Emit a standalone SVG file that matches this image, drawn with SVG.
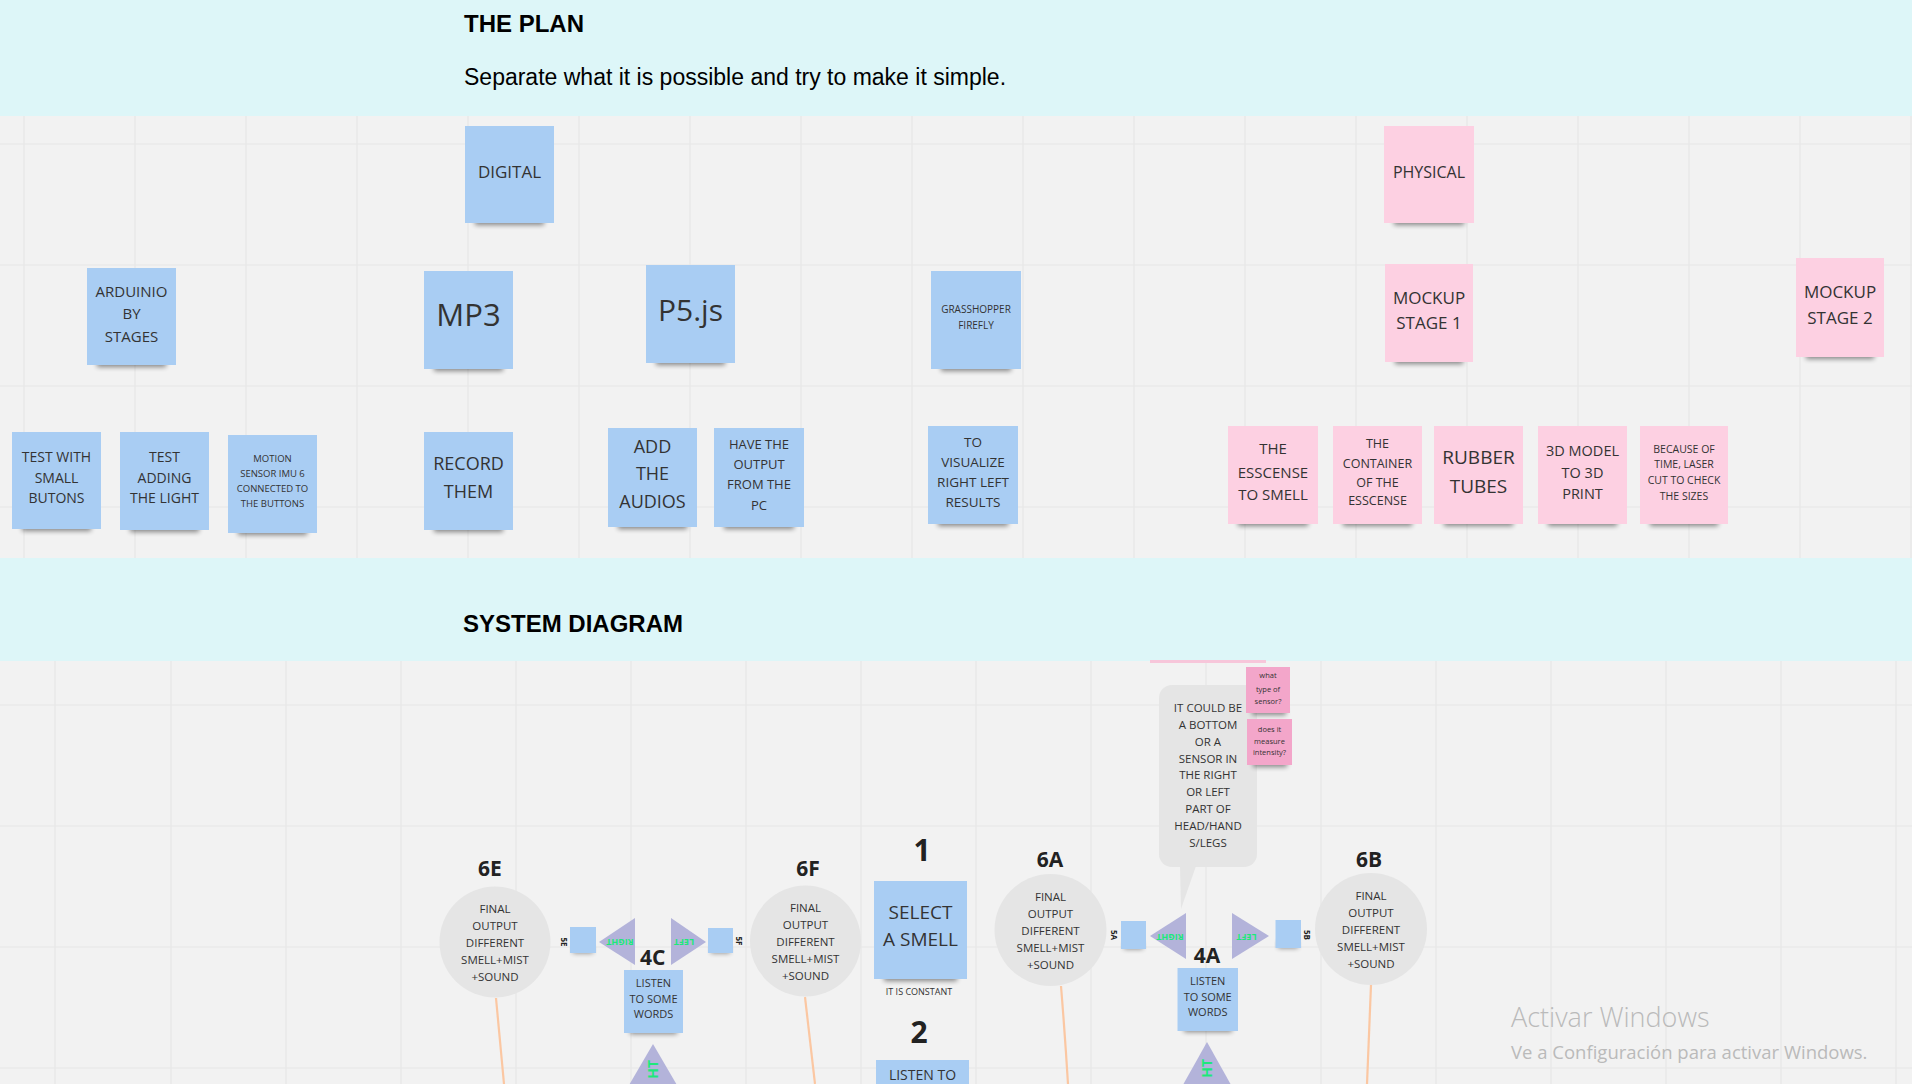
<svg xmlns="http://www.w3.org/2000/svg" width="1912" height="1084" viewBox="0 0 1912 1084">
<defs>
<style>
.bg{fill:#f2f2f2}
.band{fill:#ddf6f8}
.grid{stroke:#e6e6e6;stroke-width:1.2;fill:none}
.b{fill:#a9cdf3}
.p{fill:#fdd0e2}
.pk{fill:#f3a6ca}
.shd{fill:#000;opacity:.45;filter:url(#blur)}
.t{font-family:"Open Sans","Noto Sans",sans-serif;fill:#333;text-anchor:middle}
.h{font-family:"Liberation Sans",Arial,sans-serif;fill:#000}
.lbl{font-family:"Open Sans","Noto Sans",sans-serif;font-weight:700;fill:#222;text-anchor:middle}
.circ{fill:#e5e5e5}
.tri{fill:#b3b3da}
.g{font-family:"Open Sans","Noto Sans",sans-serif;font-weight:700;fill:#1ee87b;text-anchor:middle}
.con{stroke:#fbc7a2;stroke-width:2.2;fill:none}
.wm{font-family:"Open Sans","Noto Sans",sans-serif;fill:#bababa}
</style>
<filter id="blur" x="-20%" y="-100%" width="140%" height="300%"><feGaussianBlur stdDeviation="2.5"/></filter>
</defs>
<rect class="bg" x="0" y="0" width="1912" height="1084"/>
<g id="grid">
<path class="grid" d="M24 116V558M135 116V558M246 116V558M357 116V558M468 116V558M579 116V558M690 116V558M801 116V558M912 116V558M1023 116V558M1134 116V558M1245 116V558M1356 116V558M1467 116V558M1578 116V558M1689 116V558M1800 116V558M1911 116V558M0 144H1912M0 265H1912M0 386H1912M0 507H1912"/>
<path class="grid" d="M55 661V1084M171 661V1084M286 661V1084M401 661V1084M516 661V1084M631 661V1084M746 661V1084M861 661V1084M976 661V1084M1091 661V1084M1206 661V1084M1321 661V1084M1436 661V1084M1551 661V1084M1666 661V1084M1781 661V1084M1896 661V1084M0 705H1912M0 826H1912M0 947H1912M0 1068H1912"/>
</g>
<rect class="band" x="0" y="0" width="1912" height="116"/>
<rect class="band" x="0" y="558" width="1912" height="103"/>
<rect x="1150" y="660" width="116" height="3" fill="#f7c6da"/>
<g id="header-plan">
<text class="h" x="464" y="32" font-size="24" font-weight="700">THE PLAN</text>
<text class="h" x="464" y="85" font-size="23">Separate what it is possible and try to make it simple.</text>
</g>
<g id="header-system">
<text class="h" x="463" y="632" font-size="24" font-weight="700">SYSTEM DIAGRAM</text>
</g>

<g id="digital"><rect class="shd" x="475" y="215" width="69" height="10"/><rect class="b" x="465" y="126" width="89" height="97"/><text class="t" x="509.5" y="178" font-size="17">DIGITAL</text></g>
<g id="physical"><rect class="shd" x="1394" y="215" width="70" height="10"/><rect class="p" x="1384" y="126" width="90" height="97"/><text class="t" x="1429" y="178" font-size="16">PHYSICAL</text></g>

<g id="arduino"><rect class="shd" x="97" y="357" width="69" height="10"/><rect class="b" x="87" y="268" width="89" height="97"/><text class="t" font-size="15"><tspan x="131.5" y="297">ARDUINIO</tspan><tspan x="131.5" y="319">BY</tspan><tspan x="131.5" y="342">STAGES</tspan></text></g>
<g id="mp3"><rect class="shd" x="434" y="361" width="69" height="10"/><rect class="b" x="424" y="271" width="89" height="98"/><text class="t" x="468.5" y="326" font-size="31">MP3</text></g>
<g id="p5js"><rect class="shd" x="656" y="355" width="69" height="10"/><rect class="b" x="646" y="265" width="89" height="98"/><text class="t" x="690.5" y="321" font-size="30">P5.js</text></g>
<g id="grasshopper"><rect class="shd" x="941" y="361" width="70" height="10"/><rect class="b" x="931" y="271" width="90" height="98"/><text class="t" font-size="10"><tspan x="976" y="312.6">GRASSHOPPER</tspan><tspan x="976" y="328.6">FIREFLY</tspan></text></g>
<g id="mockup1"><rect class="shd" x="1395" y="354" width="68" height="10"/><rect class="p" x="1385" y="264" width="88" height="98"/><text class="t" font-size="17"><tspan x="1429" y="304">MOCKUP</tspan><tspan x="1429" y="329">STAGE 1</tspan></text></g>
<g id="mockup2"><rect class="shd" x="1806" y="349" width="68" height="10"/><rect class="p" x="1796" y="258" width="88" height="99"/><text class="t" font-size="17"><tspan x="1840" y="298">MOCKUP</tspan><tspan x="1840" y="324">STAGE 2</tspan></text></g>

<g id="test-buttons"><rect class="shd" x="22" y="521" width="69" height="10"/><rect class="b" x="12" y="432" width="89" height="97"/><text class="t" font-size="14"><tspan x="56.5" y="462">TEST WITH</tspan><tspan x="56.5" y="483">SMALL</tspan><tspan x="56.5" y="503">BUTONS</tspan></text></g>
<g id="test-light"><rect class="shd" x="130" y="522" width="69" height="10"/><rect class="b" x="120" y="432" width="89" height="98"/><text class="t" font-size="14"><tspan x="164.5" y="462">TEST</tspan><tspan x="164.5" y="483">ADDING</tspan><tspan x="164.5" y="503">THE LIGHT</tspan></text></g>
<g id="motion"><rect class="shd" x="238" y="525" width="69" height="10"/><rect class="b" x="228" y="435" width="89" height="98"/><text class="t" font-size="9.5"><tspan x="272.5" y="462.4">MOTION</tspan><tspan x="272.5" y="477.4">SENSOR IMU  6</tspan><tspan x="272.5" y="492.4">CONNECTED TO</tspan><tspan x="272.5" y="507.4">THE BUTTONS</tspan></text></g>
<g id="record"><rect class="shd" x="434" y="522" width="69" height="10"/><rect class="b" x="424" y="432" width="89" height="98"/><text class="t" font-size="18"><tspan x="468.5" y="469.5">RECORD</tspan><tspan x="468.5" y="497.5">THEM</tspan></text></g>
<g id="add-audios"><rect class="shd" x="618" y="519" width="69" height="10"/><rect class="b" x="608" y="428" width="89" height="99"/><text class="t" font-size="18"><tspan x="652.5" y="452.5">ADD</tspan><tspan x="652.5" y="479.5">THE</tspan><tspan x="652.5" y="507.5">AUDIOS</tspan></text></g>
<g id="output-pc"><rect class="shd" x="724" y="519" width="70" height="10"/><rect class="b" x="714" y="428" width="90" height="99"/><text class="t" font-size="13"><tspan x="759" y="448.7">HAVE THE</tspan><tspan x="759" y="468.7">OUTPUT</tspan><tspan x="759" y="488.7">FROM THE</tspan><tspan x="759" y="509.7">PC</tspan></text></g>
<g id="visualize"><rect class="shd" x="938" y="516" width="70" height="10"/><rect class="b" x="928" y="426" width="90" height="98"/><text class="t" font-size="13.5"><tspan x="973" y="447">TO</tspan><tspan x="973" y="467">VISUALIZE</tspan><tspan x="973" y="487">RIGHT LEFT</tspan><tspan x="973" y="507">RESULTS</tspan></text></g>
<g id="essence"><rect class="shd" x="1238" y="516" width="70" height="10"/><rect class="p" x="1228" y="426" width="90" height="98"/><text class="t" font-size="15"><tspan x="1273" y="454.4">THE</tspan><tspan x="1273" y="478.4">ESSCENSE</tspan><tspan x="1273" y="500.4">TO SMELL</tspan></text></g>
<g id="container"><rect class="shd" x="1343" y="516" width="69" height="10"/><rect class="p" x="1333" y="426" width="89" height="98"/><text class="t" font-size="12.5"><tspan x="1377.5" y="447.5">THE</tspan><tspan x="1377.5" y="467.5">CONTAINER</tspan><tspan x="1377.5" y="486.5">OF THE</tspan><tspan x="1377.5" y="504.5">ESSCENSE</tspan></text></g>
<g id="rubber"><rect class="shd" x="1444" y="516" width="69" height="10"/><rect class="p" x="1434" y="426" width="89" height="98"/><text class="t" font-size="19"><tspan x="1478.5" y="464">RUBBER</tspan><tspan x="1478.5" y="493">TUBES</tspan></text></g>
<g id="model3d"><rect class="shd" x="1548" y="516" width="69" height="10"/><rect class="p" x="1538" y="426" width="89" height="98"/><text class="t" font-size="14.5"><tspan x="1582.5" y="456">3D MODEL</tspan><tspan x="1582.5" y="478">TO 3D</tspan><tspan x="1582.5" y="499">PRINT</tspan></text></g>
<g id="laser"><rect class="shd" x="1650" y="516" width="68" height="10"/><rect class="p" x="1640" y="426" width="88" height="98"/><text class="t" font-size="10.5"><tspan x="1684" y="452.8">BECAUSE OF</tspan><tspan x="1684" y="467.8">TIME, LASER</tspan><tspan x="1684" y="483.8">CUT TO CHECK</tspan><tspan x="1684" y="499.8">THE SIZES</tspan></text></g>

<g id="connectors">
<path class="con" d="M496 998Q500 1040 504 1084"/>
<path class="con" d="M805 997Q810 1040 815 1084"/>
<path class="con" d="M1061 986Q1065 1035 1068 1084"/>
<path class="con" d="M1371 985Q1369 1035 1367 1084"/>
</g>

<g id="bubble">
<rect x="1159" y="685" width="98" height="182" rx="13" fill="#e5e5e5"/>
<polygon points="1180,866 1196,866 1181,909" fill="#e5e5e5"/>
<text class="t" font-size="11.5"><tspan x="1208" y="712">IT COULD BE</tspan><tspan x="1208" y="729">A BOTTOM</tspan><tspan x="1208" y="746">OR A</tspan><tspan x="1208" y="763">SENSOR IN</tspan><tspan x="1208" y="779">THE RIGHT</tspan><tspan x="1208" y="796">OR LEFT</tspan><tspan x="1208" y="813">PART OF</tspan><tspan x="1208" y="830">HEAD/HAND</tspan><tspan x="1208" y="847">S/LEGS</tspan></text>
</g>
<g id="q-sensor"><rect class="shd" x="1252" y="708" width="34" height="7"/><rect class="pk" x="1246" y="667" width="44" height="46"/><text class="t" font-size="7.5"><tspan x="1268" y="678.4">what</tspan><tspan x="1268" y="691.7">type of</tspan><tspan x="1268" y="704.4">sensor?</tspan></text></g>
<g id="q-intensity"><rect class="shd" x="1253" y="760" width="34" height="7"/><rect class="pk" x="1247" y="719" width="45" height="46"/><text class="t" font-size="7.5"><tspan x="1269.5" y="731.7">does it</tspan><tspan x="1269.5" y="743.7">measure</tspan><tspan x="1269.5" y="754.7">intensity?</tspan></text></g>

<g id="n6E"><text class="lbl" x="490" y="875.5" font-size="21">6E</text><circle class="circ" cx="495" cy="942" r="55.5"/><text class="t" font-size="11.5"><tspan x="495" y="913">FINAL</tspan><tspan x="495" y="930">OUTPUT</tspan><tspan x="495" y="947">DIFFERENT</tspan><tspan x="495" y="964">SMELL+MIST</tspan><tspan x="495" y="981">+SOUND</tspan></text></g>
<g id="n6F"><text class="lbl" x="808" y="875.5" font-size="21">6F</text><circle class="circ" cx="805.5" cy="941" r="55.5"/><text class="t" font-size="11.5"><tspan x="805.5" y="912">FINAL</tspan><tspan x="805.5" y="929">OUTPUT</tspan><tspan x="805.5" y="946">DIFFERENT</tspan><tspan x="805.5" y="963">SMELL+MIST</tspan><tspan x="805.5" y="980">+SOUND</tspan></text></g>
<g id="n6A"><text class="lbl" x="1050" y="866.5" font-size="21">6A</text><circle class="circ" cx="1050.5" cy="930" r="56"/><text class="t" font-size="11.5"><tspan x="1050.5" y="901">FINAL</tspan><tspan x="1050.5" y="918">OUTPUT</tspan><tspan x="1050.5" y="935">DIFFERENT</tspan><tspan x="1050.5" y="952">SMELL+MIST</tspan><tspan x="1050.5" y="969">+SOUND</tspan></text></g>
<g id="n6B"><text class="lbl" x="1369" y="866.5" font-size="21">6B</text><circle class="circ" cx="1371" cy="929" r="56"/><text class="t" font-size="11.5"><tspan x="1371" y="900">FINAL</tspan><tspan x="1371" y="917">OUTPUT</tspan><tspan x="1371" y="934">DIFFERENT</tspan><tspan x="1371" y="951">SMELL+MIST</tspan><tspan x="1371" y="968">+SOUND</tspan></text></g>

<g id="n1"><text class="lbl" x="922" y="861" font-size="30">1</text><rect class="shd" x="884" y="971" width="73" height="10"/><rect class="b" x="874" y="881" width="93" height="98"/><text class="t" font-size="19"><tspan x="920.5" y="919">SELECT</tspan><tspan x="920.5" y="946">A SMELL</tspan></text><text class="t" x="919" y="995" font-size="9" fill="#777">IT IS CONSTANT</text></g>
<g id="n2"><text class="lbl" x="919" y="1043" font-size="30">2</text><rect class="b" x="876" y="1060" width="93" height="30"/><text class="t" x="922.5" y="1080" font-size="14">LISTEN TO</text></g>

<g id="n4C">
<text class="lbl" x="652.7" y="964.5" font-size="21">4C</text>
<rect class="shd" x="630" y="1026" width="47" height="8"/><rect class="b" x="624" y="970" width="59" height="63"/>
<text class="t" font-size="11"><tspan x="653.5" y="987">LISTEN</tspan><tspan x="653.5" y="1003">TO SOME</tspan><tspan x="653.5" y="1018">WORDS</tspan></text>
<polygon class="tri" points="599,942 635,918 635,965"/>
<text class="g" font-size="9" transform="translate(620,942) rotate(180)" x="0" y="3.2">RIGHT</text>
<polygon class="tri" points="671,918 706,942 671,965"/>
<text class="g" font-size="9" transform="translate(684,942) rotate(180)" x="0" y="3.2">LEFT</text>
<polygon class="tri" points="653,1044 681,1092 625,1092"/>
<text class="g" font-size="14" transform="translate(658,1060) rotate(-90)" x="0" y="0" style="text-anchor:end">HT</text>
</g>
<g id="n5E"><rect class="shd" x="573" y="947" width="20" height="6"/><rect class="b" x="570" y="927" width="26" height="26"/><text class="lbl" font-size="8" transform="translate(564,942) rotate(90)" x="0" y="3">5E</text></g>
<g id="n5F"><rect class="shd" x="711" y="947" width="19" height="6"/><rect class="b" x="708" y="928" width="25" height="25"/><text class="lbl" font-size="8" transform="translate(739,941) rotate(90)" x="0" y="3">5F</text></g>

<g id="n4A">
<text class="lbl" x="1207" y="962.5" font-size="21">4A</text>
<rect class="shd" x="1184" y="1024" width="48" height="8"/><rect class="b" x="1177.5" y="968" width="60.5" height="63"/>
<text class="t" font-size="11"><tspan x="1207.7" y="985">LISTEN</tspan><tspan x="1207.7" y="1001">TO SOME</tspan><tspan x="1207.7" y="1016">WORDS</tspan></text>
<polygon class="tri" points="1150,936 1186,913 1186,959"/>
<text class="g" font-size="9" transform="translate(1170,937) rotate(180)" x="0" y="3.2">RIGHT</text>
<polygon class="tri" points="1232,913 1269,936 1232,959"/>
<text class="g" font-size="9" transform="translate(1246.5,937) rotate(180)" x="0" y="3.2">LEFT</text>
<polygon class="tri" points="1207,1042 1235,1092 1179,1092"/>
<text class="g" font-size="14" transform="translate(1212,1059) rotate(-90)" x="0" y="0" style="text-anchor:end">HT</text>
</g>
<g id="n5A"><rect class="shd" x="1124" y="943" width="19" height="6"/><rect class="b" x="1121" y="921" width="25" height="28"/><text class="lbl" font-size="8" transform="translate(1114,935) rotate(90)" x="0" y="3">5A</text></g>
<g id="n5B"><rect class="shd" x="1278" y="942" width="20" height="6"/><rect class="b" x="1275.5" y="920" width="25.5" height="28"/><text class="lbl" font-size="8" transform="translate(1307,935) rotate(90)" x="0" y="3">5B</text></g>

<g id="watermark">
<text class="wm" x="1511" y="1027" font-size="27" font-weight="300">Activar Windows</text>
<text class="wm" x="1511" y="1059" font-size="18.5">Ve a Configuración para activar Windows.</text>
</g>
</svg>
